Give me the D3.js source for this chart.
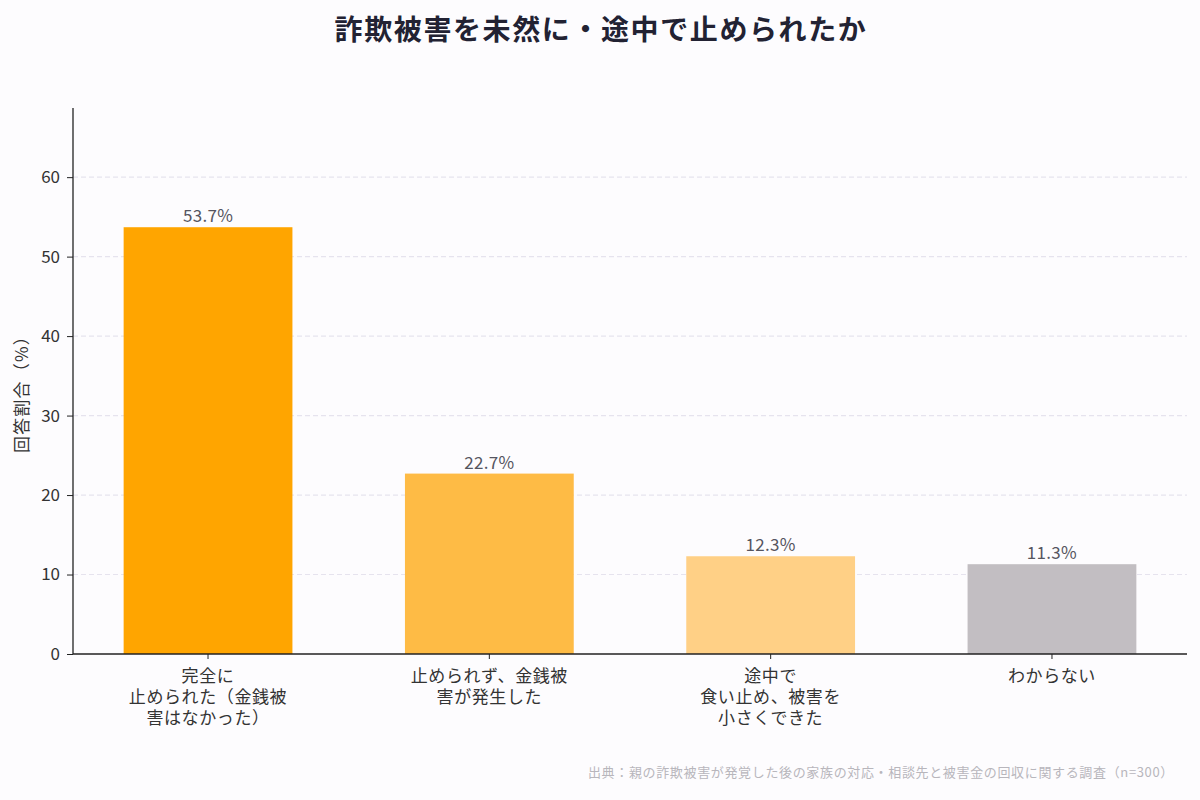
<!DOCTYPE html>
<html><head><meta charset="utf-8">
<script src="https://cdn.jsdelivr.net/npm/d3@7"></script>
<style>
body{margin:0;background:#fdfcfe;}
svg{display:block;font-family:"Noto Sans CJK JP","Noto Sans",sans-serif;}
</style></head><body>
<svg id="c" width="1200" height="800"></svg>
<script>
const categories = [
  ["完全に","止められた（金銭被","害はなかった）"],
  ["止められず、金銭被","害が発生した"],
  ["途中で","食い止め、被害を","小さくできた"],
  ["わからない"]
];
const values = [53.7, 22.7, 12.3, 11.3];
const colors = ["#FFA500", "#FEBB45", "#FFD086", "#C2BEC2"];
const yTicks = [0, 10, 20, 30, 40, 50, 60];
const title = "詐欺被害を未然に・途中で止められたか";
const yLabel = "回答割合（%）";
const source = "出典：親の詐欺被害が発覚した後の家族の対応・相談先と被害金の回収に関する調査（n=300）";

const svg = d3.select("#c");
const pL = 73, pR = 1187, pT = 108, pB = 654;
const x = d3.scaleBand().domain(d3.range(values.length)).range([pL, pR]).paddingInner(0.4).paddingOuter(0.18);
const y = d3.scaleLinear().domain([0, 68.7]).range([pB, pT]);

svg.append("rect").attr("width",1200).attr("height",800).attr("fill","#fdfcfe");

// grid
svg.append("g").selectAll("line").data(yTicks.filter(d=>d>0)).join("line")
  .attr("x1", pL).attr("x2", pR).attr("y1", d=>y(d)).attr("y2", d=>y(d))
  .attr("stroke", "#e6e3ee").attr("stroke-width", 1.2).attr("stroke-dasharray", "5,3");

// bars
svg.append("g").selectAll("rect").data(values).join("rect")
  .attr("x", (d,i)=>x(i)).attr("width", x.bandwidth())
  .attr("y", d=>y(d)).attr("height", d=>pB - y(d))
  .attr("fill", (d,i)=>colors[i]);

// value labels
svg.append("g").selectAll("text").data(values).join("text")
  .attr("x", (d,i)=>x(i)+x.bandwidth()/2).attr("y", d=>y(d)-5)
  .attr("text-anchor","middle").attr("font-size",17).attr("fill","#555560")
  .attr("letter-spacing",0.3)
  .text(d=>d.toFixed(1)+"%");

// y axis
const ya = svg.append("g").attr("transform",`translate(${pL},0)`)
  .call(d3.axisLeft(y).tickValues(yTicks).tickSize(6).tickPadding(7));
ya.select(".domain").remove();
ya.selectAll("text").attr("font-size",17).attr("fill","#333").attr("font-family","'Noto Sans CJK JP',sans-serif");
ya.selectAll("line").attr("stroke","#222");
svg.append("line").attr("x1",pL).attr("x2",pL).attr("y1",pT).attr("y2",pB).attr("stroke","#222").attr("stroke-width",1.3);

// x axis
svg.append("line").attr("x1",pL).attr("x2",pR).attr("y1",pB).attr("y2",pB).attr("stroke","#222").attr("stroke-width",1.3);
const xg = svg.append("g");
categories.forEach((lines,i)=>{
  const cx = x(i)+x.bandwidth()/2;
  xg.append("line").attr("x1",cx).attr("x2",cx).attr("y1",pB).attr("y2",pB+5).attr("stroke","#222");
  lines.forEach((ln,j)=>{
    xg.append("text").attr("text-anchor","middle").attr("font-size",17).attr("fill","#333")
      .attr("letter-spacing",0.6)
      .attr("x",cx).attr("y",pB+28+j*21).text(ln);
  });
});

// y label
svg.append("text").attr("transform",`translate(28,390) rotate(-90)`)
  .attr("text-anchor","middle").attr("font-size",17).attr("letter-spacing",1.2).attr("fill","#333").text(yLabel);

// title
svg.append("text").attr("x",601).attr("y",40).attr("text-anchor","middle")
  .attr("font-size",28).attr("font-weight","bold").attr("letter-spacing",1.6).attr("fill","#222233").text(title);

// source
svg.append("text").attr("x",1174).attr("y",777).attr("text-anchor","end")
  .attr("font-size",13).attr("letter-spacing",0.65).attr("fill","#b8b6bc").text(source);
</script>
</body></html>
